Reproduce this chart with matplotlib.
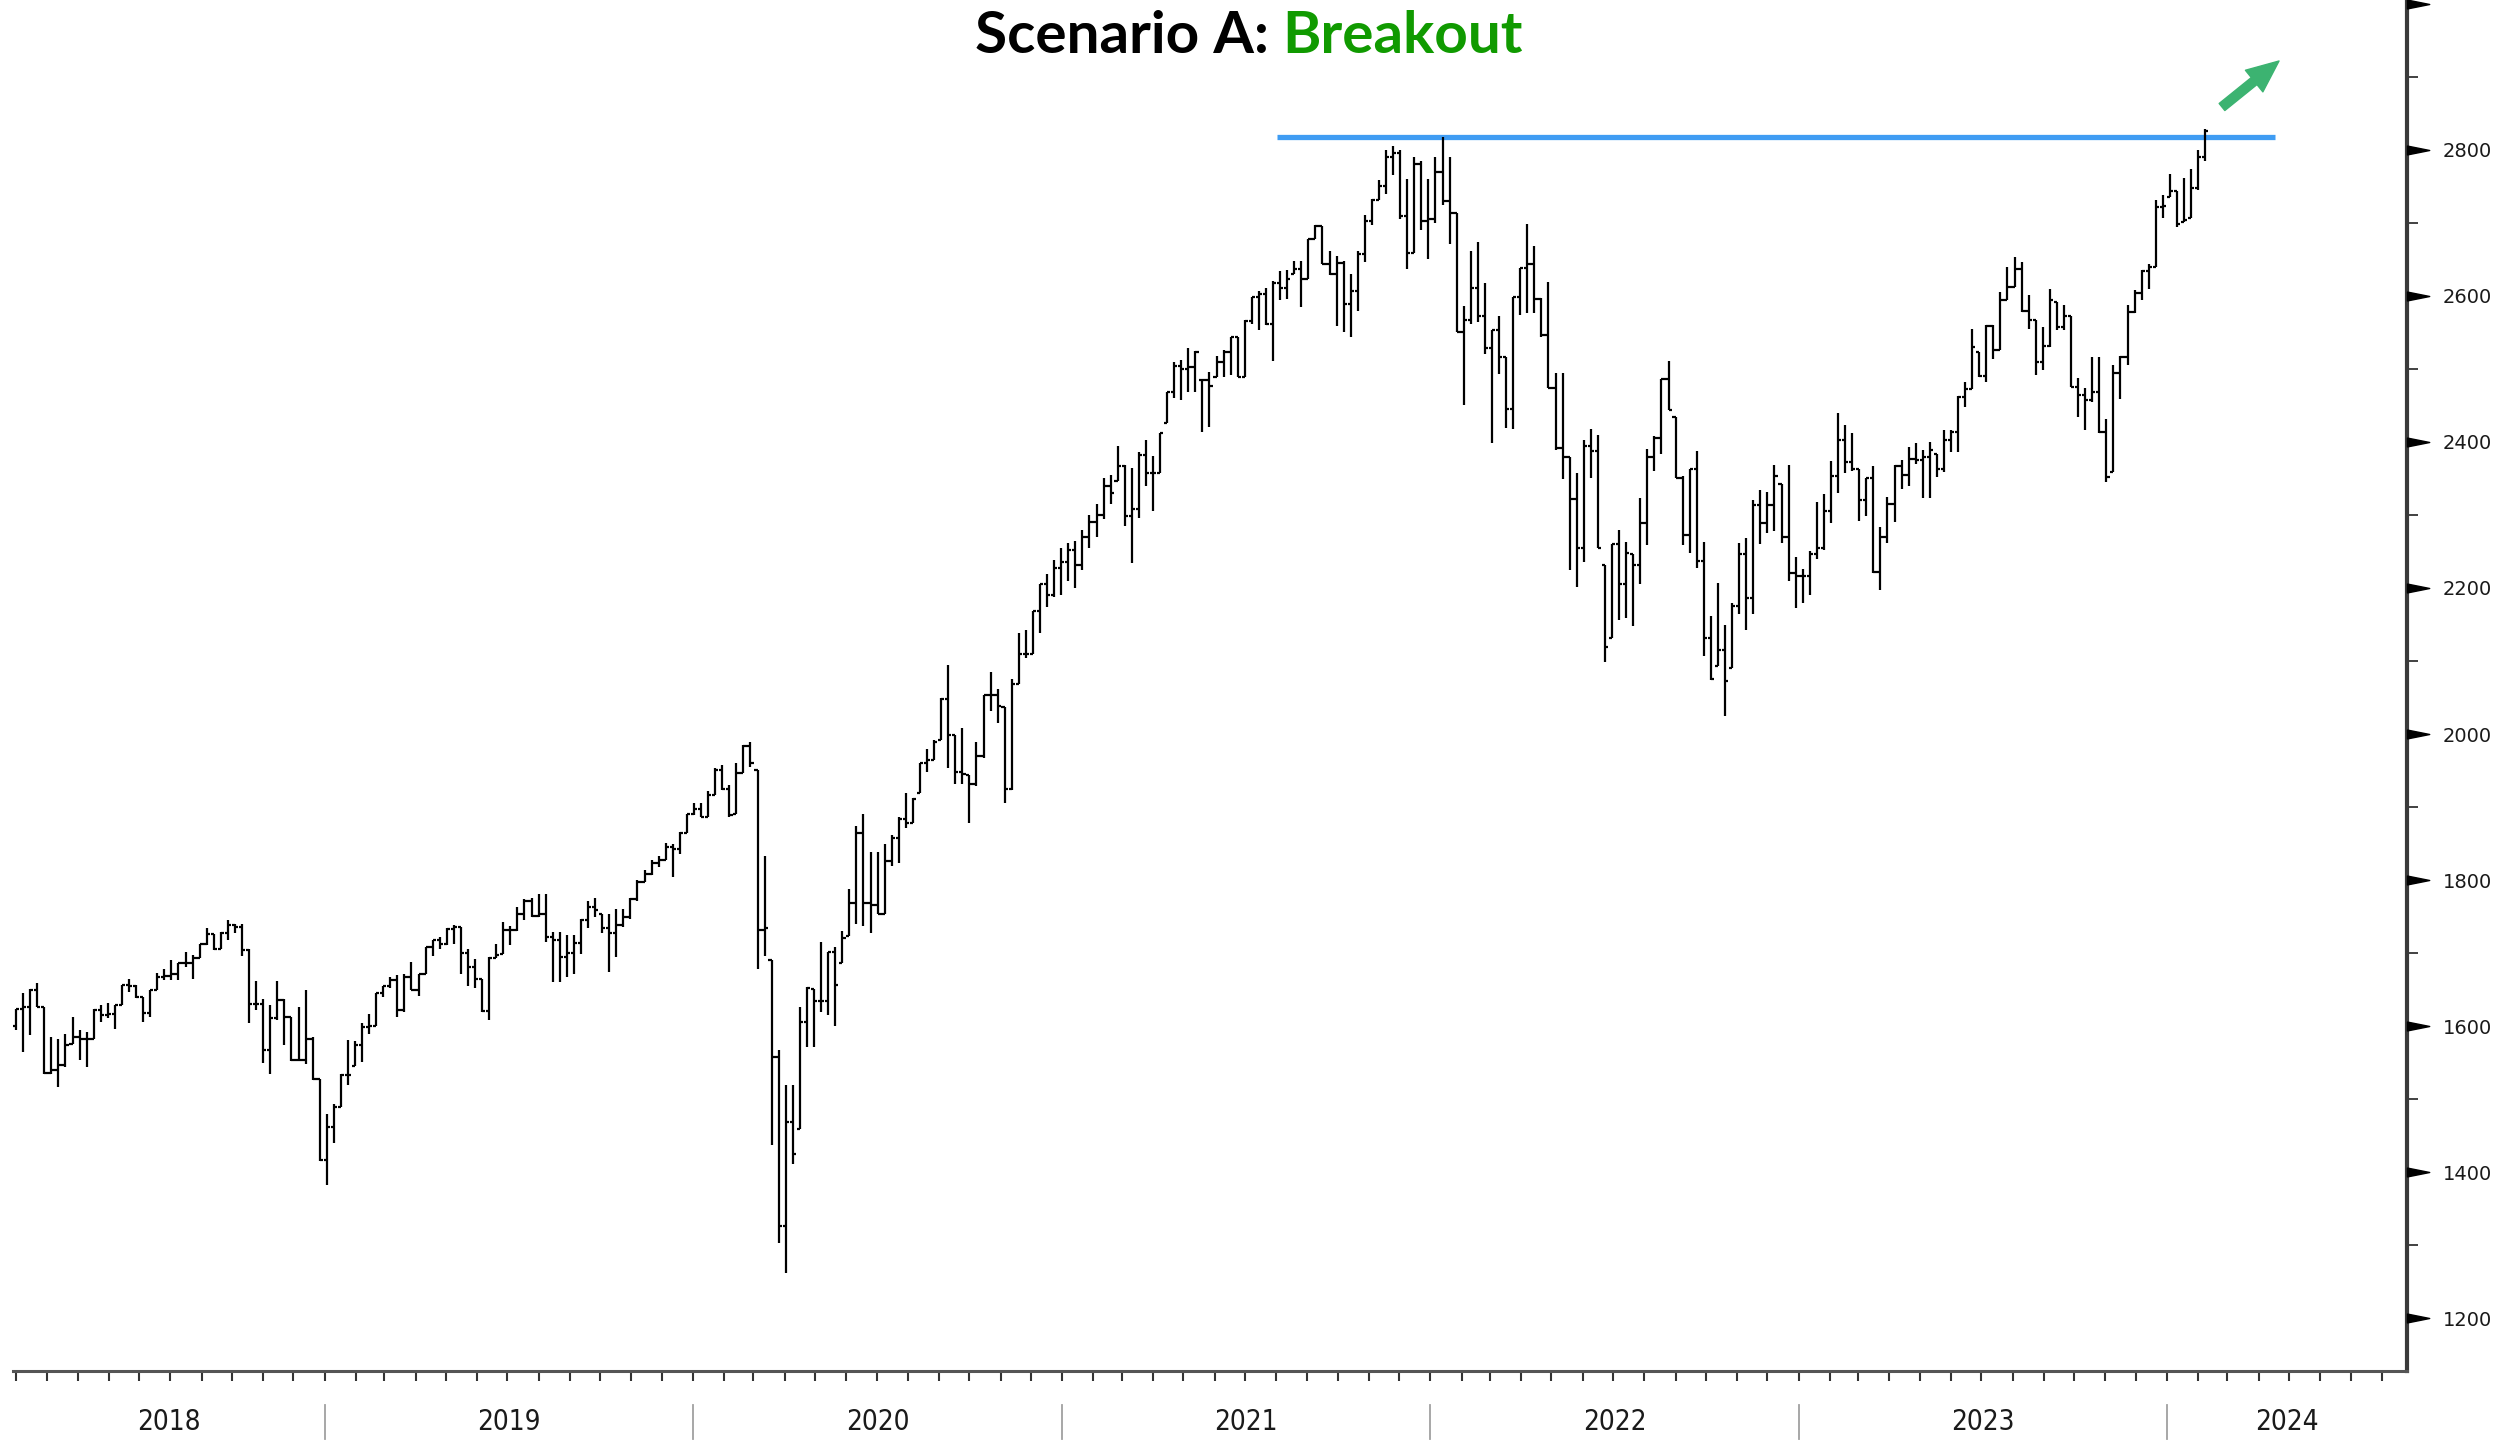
import matplotlib
matplotlib.use("Agg")
import matplotlib.pyplot as plt
import matplotlib.dates as mdates
import matplotlib.transforms as mtransforms
from matplotlib.collections import LineCollection
from matplotlib.patches import FancyArrowPatch
from matplotlib.path import Path
import numpy as np
import pandas as pd

# Weekly OHLC bars (first bar week of 2018-03-01)
first_week = "2018-03-01"

opens = [
    1600, 1624, 1627, 1650, 1627, 1536, 1540, 1547, 1576, 1585,
    1583, 1583, 1622, 1615, 1617, 1629, 1656, 1655, 1640, 1618,
    1649, 1668, 1669, 1671, 1686, 1686, 1694, 1713, 1726, 1706,
    1727, 1738, 1736, 1705, 1631, 1631, 1567, 1611, 1636, 1613,
    1554, 1554, 1583, 1528, 1417, 1462, 1490, 1533, 1545, 1574,
    1599, 1601, 1645, 1655, 1663, 1622, 1668, 1650, 1672, 1708,
    1718, 1712, 1733, 1736, 1700, 1681, 1665, 1621, 1693, 1699,
    1732, 1732, 1754, 1772, 1751, 1754, 1722, 1718, 1695, 1700,
    1714, 1745, 1763, 1754, 1735, 1727, 1738, 1750, 1774, 1798,
    1809, 1824, 1828, 1846, 1842, 1865, 1890, 1898, 1886, 1916,
    1951, 1925, 1891, 1947, 1983, 1951, 1732, 1691, 1558, 1326,
    1469, 1460, 1606, 1651, 1635, 1635, 1701, 1686, 1724, 1769,
    1865, 1769, 1766, 1753, 1826, 1858, 1884, 1878, 1919, 1960,
    1964, 1992, 2048, 1999, 1948, 1944, 1932, 1970, 2053, 2053,
    2037, 1925, 2069, 2110, 2110, 2168, 2206, 2190, 2228, 2235,
    2252, 2232, 2270, 2290, 2300, 2340, 2347, 2367, 2299, 2308,
    2382, 2357, 2358, 2426, 2468, 2504, 2500, 2502, 2485, 2485,
    2489, 2510, 2523, 2543, 2489, 2566, 2598, 2603, 2562, 2618,
    2611, 2630, 2637, 2623, 2678, 2695, 2643, 2630, 2645, 2589,
    2606, 2657, 2702, 2731, 2750, 2790, 2795, 2709, 2658, 2780,
    2702, 2705, 2770, 2730, 2714, 2550, 2567, 2611, 2572, 2528,
    2553, 2516, 2445, 2599, 2638, 2644, 2595, 2547, 2474, 2392,
    2379, 2322, 2255, 2395, 2388, 2231, 2131, 2260, 2205, 2247,
    2232, 2289, 2379, 2406, 2486, 2434, 2351, 2273, 2363, 2237,
    2131, 2093, 2115, 2091, 2175, 2247, 2186, 2314, 2289, 2314,
    2342, 2270, 2221, 2216, 2216, 2247, 2255, 2305, 2354, 2403,
    2372, 2363, 2320, 2351, 2222, 2270, 2315, 2367, 2355, 2376,
    2375, 2380, 2384, 2363, 2403, 2414, 2462, 2473, 2523, 2490,
    2558, 2526, 2594, 2612, 2637, 2579, 2567, 2510, 2531, 2592,
    2557, 2573, 2475, 2464, 2457, 2468, 2414, 2359, 2495, 2516,
    2578, 2604, 2634, 2640, 2722, 2735, 2744, 2701, 2706, 2747,
    2790,
]

highs = [
    1624, 1645, 1651, 1659, 1627, 1585, 1583, 1590, 1613, 1595,
    1592, 1624, 1629, 1632, 1629, 1656, 1664, 1656, 1640, 1650,
    1673, 1678, 1691, 1687, 1702, 1697, 1713, 1734, 1726, 1729,
    1746, 1740, 1740, 1706, 1662, 1637, 1629, 1662, 1637, 1613,
    1627, 1650, 1585, 1528, 1480, 1494, 1535, 1581, 1580, 1605,
    1617, 1645, 1655, 1667, 1670, 1672, 1688, 1672, 1708, 1718,
    1722, 1734, 1738, 1736, 1706, 1692, 1665, 1695, 1713, 1743,
    1737, 1763, 1774, 1775, 1781, 1781, 1729, 1729, 1725, 1725,
    1747, 1772, 1775, 1754, 1754, 1761, 1761, 1775, 1800, 1814,
    1827, 1833, 1851, 1850, 1866, 1891, 1905, 1905, 1922, 1953,
    1957, 1930, 1960, 1985, 1989, 1951, 1833, 1691, 1567, 1520,
    1520, 1626, 1654, 1651, 1715, 1702, 1708, 1731, 1788, 1874,
    1890, 1839, 1839, 1849, 1862, 1887, 1919, 1913, 1960, 1980,
    1992, 2050, 2094, 1999, 2008, 1944, 1989, 2053, 2085, 2062,
    2037, 2075, 2139, 2142, 2168, 2206, 2219, 2238, 2255, 2262,
    2265, 2280, 2300, 2315, 2350, 2355, 2395, 2369, 2364, 2386,
    2402, 2381, 2412, 2468, 2510, 2512, 2528, 2524, 2485, 2496,
    2517, 2526, 2543, 2544, 2567, 2599, 2606, 2611, 2620, 2634,
    2635, 2648, 2648, 2678, 2697, 2695, 2662, 2654, 2648, 2630,
    2661, 2710, 2733, 2758, 2800, 2805, 2800, 2760, 2790, 2785,
    2760, 2790, 2818, 2790, 2714, 2586, 2662, 2674, 2618, 2553,
    2573, 2516, 2599, 2638, 2698, 2668, 2597, 2619, 2494, 2494,
    2379, 2358, 2403, 2417, 2410, 2231, 2260, 2280, 2263, 2247,
    2323, 2390, 2408, 2486, 2511, 2434, 2354, 2363, 2388, 2263,
    2161, 2207, 2149, 2180, 2262, 2269, 2320, 2334, 2331, 2369,
    2342, 2369, 2243, 2226, 2251, 2318, 2329, 2374, 2439, 2423,
    2412, 2363, 2351, 2367, 2284, 2325, 2368, 2375, 2393, 2398,
    2389, 2400, 2384, 2416, 2416, 2463, 2482, 2555, 2523, 2560,
    2560, 2605, 2640, 2653, 2646, 2601, 2567, 2557, 2610, 2592,
    2587, 2573, 2487, 2474, 2516, 2516, 2432, 2505, 2517, 2587,
    2608, 2635, 2644, 2731, 2738, 2767, 2744, 2761, 2774, 2800,
    2828,
]

lows = [
    1595, 1565, 1588, 1627, 1535, 1535, 1517, 1544, 1576, 1554,
    1544, 1583, 1606, 1611, 1596, 1629, 1647, 1638, 1606, 1613,
    1649, 1663, 1663, 1663, 1681, 1665, 1694, 1711, 1705, 1706,
    1718, 1727, 1696, 1604, 1622, 1549, 1535, 1608, 1575, 1552,
    1554, 1548, 1526, 1416, 1382, 1440, 1490, 1520, 1545, 1551,
    1590, 1601, 1640, 1653, 1613, 1620, 1649, 1641, 1672, 1696,
    1706, 1711, 1712, 1671, 1655, 1653, 1620, 1609, 1693, 1699,
    1711, 1730, 1745, 1750, 1750, 1716, 1661, 1661, 1667, 1672,
    1699, 1734, 1750, 1727, 1674, 1695, 1736, 1747, 1772, 1797,
    1807, 1818, 1828, 1805, 1836, 1864, 1889, 1886, 1886, 1916,
    1924, 1887, 1891, 1947, 1955, 1678, 1696, 1437, 1303, 1262,
    1412, 1460, 1571, 1571, 1619, 1616, 1600, 1686, 1724, 1740,
    1737, 1728, 1753, 1753, 1820, 1823, 1871, 1878, 1919, 1948,
    1964, 1992, 1954, 1932, 1932, 1878, 1929, 1967, 2031, 2015,
    1906, 1924, 2069, 2104, 2110, 2139, 2174, 2187, 2190, 2210,
    2200, 2225, 2255, 2270, 2295, 2315, 2347, 2285, 2234, 2296,
    2339, 2305, 2358, 2426, 2460, 2458, 2468, 2468, 2413, 2420,
    2489, 2489, 2491, 2489, 2489, 2561, 2553, 2560, 2511, 2594,
    2596, 2630, 2585, 2623, 2678, 2643, 2628, 2558, 2550, 2544,
    2579, 2646, 2697, 2731, 2740, 2765, 2705, 2637, 2658, 2690,
    2650, 2700, 2724, 2671, 2550, 2451, 2561, 2564, 2520, 2398,
    2493, 2419, 2417, 2574, 2577, 2577, 2543, 2474, 2389, 2349,
    2224, 2202, 2235, 2351, 2255, 2099, 2131, 2156, 2159, 2148,
    2206, 2259, 2360, 2384, 2444, 2351, 2259, 2248, 2228, 2107,
    2074, 2093, 2025, 2091, 2164, 2142, 2164, 2260, 2275, 2278,
    2262, 2210, 2173, 2180, 2191, 2240, 2252, 2289, 2330, 2357,
    2360, 2292, 2298, 2221, 2197, 2262, 2290, 2336, 2339, 2370,
    2323, 2323, 2352, 2359, 2386, 2386, 2448, 2473, 2489, 2482,
    2514, 2526, 2594, 2612, 2578, 2555, 2491, 2498, 2530, 2553,
    2553, 2475, 2434, 2416, 2455, 2412, 2345, 2359, 2459, 2505,
    2576, 2594, 2610, 2640, 2706, 2735, 2694, 2701, 2706, 2745,
    2785,
]

closes = [
    1624, 1627, 1650, 1627, 1536, 1540, 1547, 1574, 1585, 1583,
    1583, 1622, 1615, 1617, 1629, 1656, 1655, 1640, 1618, 1649,
    1668, 1669, 1671, 1686, 1686, 1694, 1713, 1726, 1706, 1727,
    1738, 1736, 1705, 1631, 1631, 1567, 1611, 1636, 1613, 1554,
    1554, 1583, 1528, 1417, 1462, 1490, 1533, 1533, 1574, 1599,
    1601, 1645, 1655, 1663, 1622, 1668, 1650, 1672, 1708, 1718,
    1712, 1733, 1736, 1700, 1681, 1665, 1621, 1693, 1697, 1732,
    1732, 1754, 1772, 1751, 1754, 1722, 1718, 1695, 1700, 1714,
    1745, 1763, 1759, 1735, 1727, 1738, 1750, 1774, 1798, 1809,
    1824, 1828, 1846, 1842, 1865, 1890, 1898, 1886, 1916, 1951,
    1925, 1889, 1947, 1983, 1960, 1732, 1734, 1558, 1326, 1469,
    1425, 1606, 1652, 1635, 1635, 1701, 1657, 1721, 1769, 1865,
    1769, 1766, 1753, 1826, 1858, 1884, 1878, 1911, 1960, 1964,
    1989, 2048, 1999, 1948, 1946, 1932, 1970, 2053, 2053, 2039,
    1925, 2069, 2110, 2110, 2168, 2206, 2190, 2228, 2235, 2252,
    2232, 2270, 2290, 2300, 2340, 2330, 2367, 2299, 2308, 2382,
    2357, 2357, 2412, 2468, 2504, 2500, 2502, 2523, 2485, 2476,
    2510, 2523, 2543, 2489, 2566, 2598, 2603, 2562, 2618, 2611,
    2623, 2637, 2623, 2678, 2695, 2643, 2630, 2645, 2589, 2606,
    2657, 2702, 2731, 2750, 2790, 2795, 2709, 2658, 2780, 2702,
    2705, 2770, 2730, 2714, 2550, 2567, 2611, 2572, 2528, 2553,
    2516, 2445, 2599, 2638, 2644, 2595, 2547, 2474, 2392, 2379,
    2322, 2255, 2395, 2388, 2255, 2119, 2260, 2205, 2248, 2232,
    2289, 2379, 2406, 2486, 2444, 2351, 2273, 2363, 2237, 2131,
    2075, 2115, 2073, 2175, 2247, 2186, 2314, 2289, 2314, 2354,
    2270, 2221, 2216, 2216, 2247, 2255, 2305, 2354, 2403, 2372,
    2363, 2320, 2351, 2222, 2270, 2315, 2367, 2355, 2376, 2375,
    2380, 2389, 2363, 2403, 2414, 2462, 2473, 2530, 2490, 2558,
    2526, 2594, 2612, 2637, 2579, 2567, 2510, 2531, 2594, 2557,
    2573, 2475, 2464, 2457, 2468, 2414, 2352, 2495, 2516, 2578,
    2604, 2634, 2640, 2722, 2723, 2744, 2698, 2704, 2747, 2790,
    2826,
]

# Resistance line and annotation
resistance_level = 2817
resistance_from = "2021-08-02"
resistance_to = "2024-04-17"

years = [2018, 2019, 2020, 2021, 2022, 2023, 2024]
y_major = [1200, 1400, 1600, 1800, 2000, 2200, 2400, 2600, 2800, 3000]
y_labels = ["1200", "1400", "1600", "1800", "2000", "2200", "2400", "2600", "2800", ""]
y_minor = [1300, 1500, 1700, 1900, 2100, 2300, 2500, 2700, 2900]

W, H = 2493, 1448
fig = plt.figure(figsize=(W / 100, H / 100), dpi=100)
ax = fig.add_axes([13 / W, 77 / H, (2407 - 13) / W, (H - 77) / H])

dates = pd.date_range(first_week, periods=len(closes), freq="7D")
xs = mdates.date2num(dates)

# OHLC bars
tick = 3.2
segs = []
for xi, o, h, l, c in zip(xs, opens, highs, lows, closes):
    segs.append([(xi, l), (xi, h)])
    segs.append([(xi - tick, o), (xi, o)])
    segs.append([(xi, c), (xi + tick, c)])
ax.add_collection(LineCollection(segs, colors="black", linewidths=1.6, zorder=3))

# horizontal resistance line
ax.plot(mdates.date2num(pd.to_datetime([resistance_from, resistance_to])),
        [resistance_level, resistance_level], color="#3f9cf3", lw=3.8,
        solid_capstyle="butt", zorder=2)

x_left = mdates.date2num(pd.Timestamp("2018-02-26"))
x_right = mdates.date2num(pd.Timestamp("2024-08-26"))
ax.set_xlim(x_left, x_right)
ax.set_ylim(1128, 3005)

# spines
for s in ["left", "top"]:
    ax.spines[s].set_visible(False)
ax.spines["right"].set_color("#3a3a3a")
ax.spines["right"].set_linewidth(3)
ax.spines["bottom"].set_color("#555555")
ax.spines["bottom"].set_linewidth(2.2)

# y axis on the right
ax.yaxis.tick_right()
ax.set_yticks(y_major)
ax.set_yticklabels(y_labels)
ax.set_yticks(y_minor, minor=True)
ax.tick_params(axis="y", which="major", length=0, pad=26, labelsize=14,
               labelcolor="#1a1a1a")
ax.tick_params(axis="y", which="minor", length=8, width=1.3, direction="out",
               color="#333333")
for lab in ax.get_yticklabels():
    lab.set_family(["DejaVu Sans"])

# triangle-shaped major ticks
tri = Path([(0, -0.2), (1, 0), (0, 0.2), (0, -0.2)],
           [Path.MOVETO, Path.LINETO, Path.LINETO, Path.CLOSEPOLY])
ytrans = mtransforms.blended_transform_factory(ax.transAxes, ax.transData)
ax.plot([1.0] * len(y_major), y_major, transform=ytrans, marker=tri,
        markersize=32, linestyle="none", color="black", clip_on=False, zorder=5)

# monthly ticks on x axis
ax.xaxis.set_major_locator(mdates.MonthLocator())
ax.tick_params(axis="x", which="major", length=7, width=1.5, direction="out",
               color="#333333", labelbottom=False)

# year separators and labels
xtrans = mtransforms.blended_transform_factory(ax.transData, ax.transAxes)
for yr in years:
    start = mdates.date2num(pd.Timestamp(f"{yr}-01-01"))
    end = mdates.date2num(pd.Timestamp(f"{yr + 1}-01-01"))
    if x_left < start < x_right:
        ax.plot([start, start], [-0.0245, -0.0495], transform=xtrans,
                color="#a0a0a0", lw=1.3, clip_on=False)
    mid = (max(start, x_left) + min(end, x_right)) / 2
    ax.text(mid, -0.0375, str(yr), transform=xtrans, ha="center", va="center",
            fontsize=20, color="#1a1a1a", fontstretch="condensed",
            family=["Liberation Sans Narrow", "DejaVu Sans"])

# two-colour title
title_kw = dict(fontsize=42, fontweight="bold", family=["Lato", "DejaVu Sans"],
                va="baseline", ha="left")
t1 = fig.text(0, 0, "Scenario A:", color="black", **title_kw)
t2 = fig.text(0, 0, "Breakout", color="#109a00", **title_kw)
renderer = fig.canvas.get_renderer()
w1 = t1.get_window_extent(renderer).width
w2 = t2.get_window_extent(renderer).width
gap = 13
x0 = 1249 - (w1 + gap + w2) / 2
ybase = 1 - 53 / H
t1.set_position((x0 / W, ybase))
t2.set_position(((x0 + w1 + gap) / W, ybase))

# green arrow
arrow = FancyArrowPatch((2222 / W, 1 - 107 / H), (2279 / W, 1 - 61 / H),
                        transform=fig.transFigure,
                        arrowstyle="simple,head_length=2.3,head_width=2.0,tail_width=0.65",
                        mutation_scale=10, color="#3cb371", shrinkA=0, shrinkB=0)
fig.add_artist(arrow)

plt.savefig("out.png", dpi=100)
